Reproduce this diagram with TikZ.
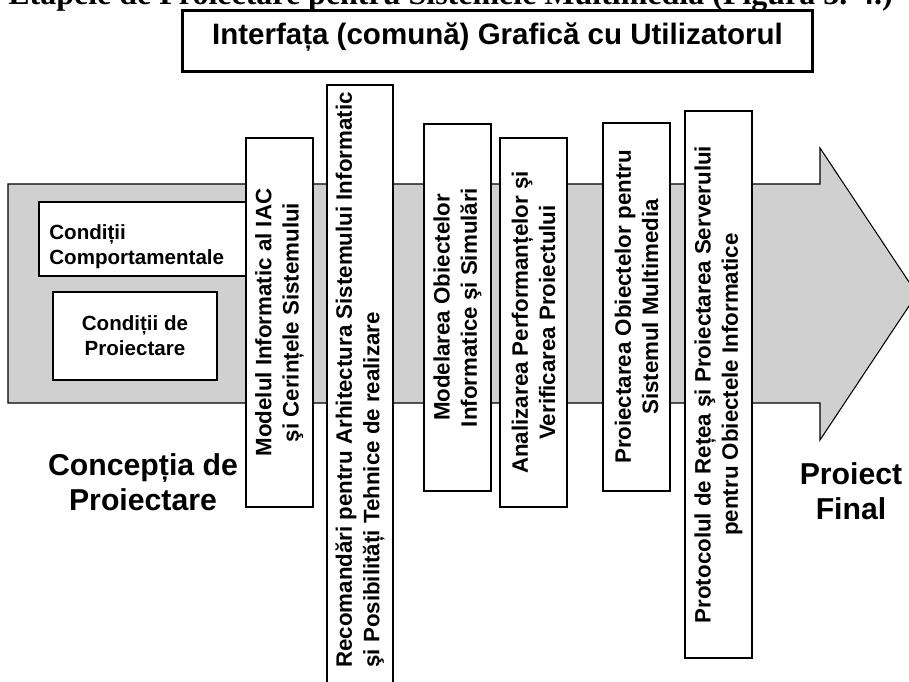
\documentclass[tikz,border=0pt]{standalone}
\usepackage{fontspec}
\setmainfont{Liberation Sans}
\newfontfamily\titlefont{Liberation Serif}
\definecolor{shaftgray}{RGB}{208,208,208}
\begin{document}
\begin{tikzpicture}[x=0.02cm,y=-0.02cm,
  vbox/.style={draw=black, line width=0.05cm, fill=white, rotate=90, inner sep=0pt,
    minimum height=1.34cm, align=center, font=\fontsize{12.7}{15.6}\selectfont\bfseries},
  condbox/.style={draw=black, line width=0.6pt, fill=white},
  condtext/.style={inner sep=0pt, font=\fontsize{11.7}{14.4}\selectfont\bfseries},
  big/.style={font=\fontsize{17.2}{19.9}\selectfont\bfseries, align=center, inner sep=0pt}]

\useasboundingbox (0,0) rectangle (909,682);
\clip (0,0) rectangle (909,682);

% big arrow
\filldraw[fill=shaftgray, draw=black, line width=0.6pt]
  (8,184) -- (820,184) -- (820,148) -- (917,294) -- (820,440) -- (820,403) -- (8,403) -- cycle;

% conditions
\draw[condbox] (39,202) rectangle (252,276);
\node[condtext, anchor=west, align=left] (ccomp) at (49,247) {Condiții\\Comportamentale};
\node[condbox, condtext, align=center, minimum width=3.28cm, minimum height=1.76cm] (cproi) at (135,336) {Condiții de\\Proiectare};

% vertical boxes
\node[vbox, minimum width=7.38cm] (iac) at (279.5,322.5) {Modelul Informatic al IAC\\şi Cerințele Sistemului};

\draw[draw=black, line width=0.6pt, fill=white] (327,85) rectangle (393,700);
\node[rotate=90, anchor=west, inner sep=0pt, align=left, font=\fontsize{12.7}{15.6}\selectfont\bfseries] (rectext) at (360,668) {Recomandări pentru Arhitectura Sistemului Informatic\\şi Posibilități Tehnice de realizare};

\node[vbox, minimum width=7.34cm] (model) at (457.5,307.5) {Modelarea Obiectelor\\Informatice şi Simulări};
\node[vbox, minimum width=7.38cm] (anal) at (533.5,322.5) {Analizarea Performanțelor şi\\Verificarea Proiectului};
\node[vbox, minimum width=7.36cm] (proj) at (636.5,307) {Proiectarea Obiectelor pentru\\Sistemul Multimedia};
\node[vbox, minimum width=10.94cm] (prot) at (718.5,384.5) {Protocolul de Rețea şi Proiectarea Serverului\\pentru Obiectele Informatice};

% top box
\node[draw=black, line width=0.06cm, fill=white, minimum width=12.62cm, minimum height=1.24cm,
  inner sep=0pt, text height=0.3cm, text depth=0.14cm,
  font=\fontsize{16.8}{20}\selectfont\bfseries] (gui) at (497.5,41) {Interfața (comună) Grafică cu Utilizatorul};

% title
\node[anchor=base, inner sep=0pt, font=\titlefont\fontsize{18.2}{22}\selectfont\bfseries] (title) at (450.5,5) {Etapele de Proiectare pentru Sistemele Multimedia (Figura 3. 4.)};

% labels
\node[big] (conc) at (143,482.5) {Concepția de\\Proiectare};
\node[big] (final) at (851,491) {Proiect\\Final};
\end{tikzpicture}
\end{document}
